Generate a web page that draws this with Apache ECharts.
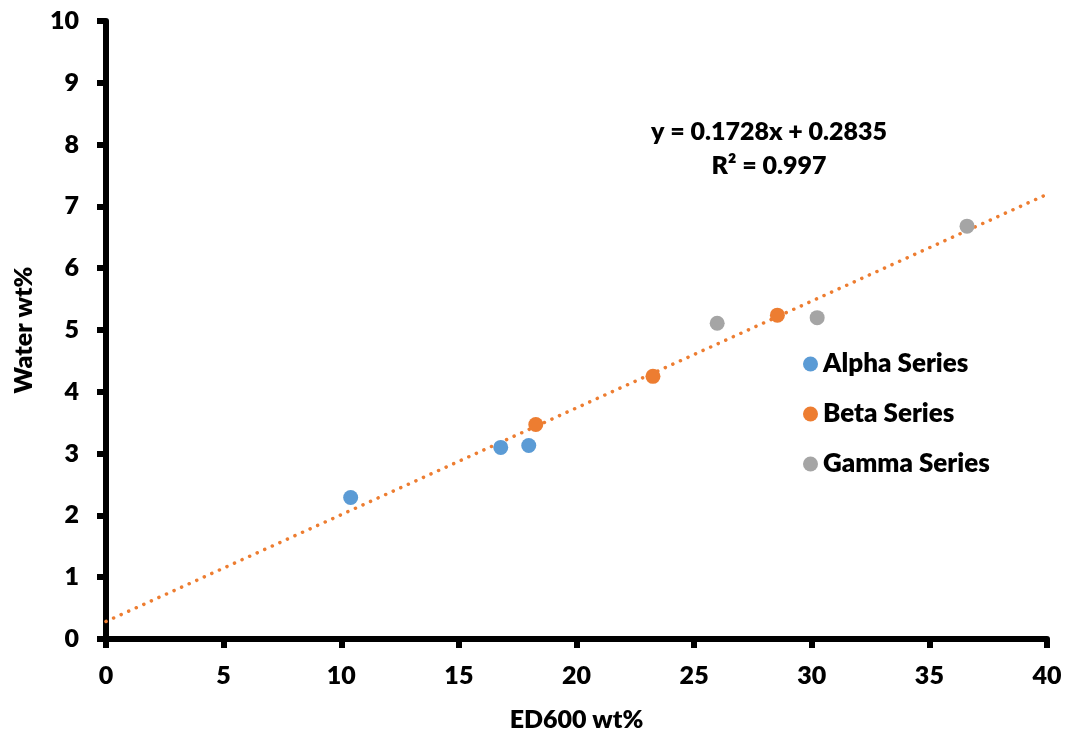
<!DOCTYPE html>
<html>
<head>
<meta charset="utf-8">
<script src="https://cdn.jsdelivr.net/npm/echarts@6/dist/echarts.min.js"></script>
<style>
html,body{margin:0;padding:0;background:#fff;}
#chart{width:1071px;height:737px;}
</style>
</head>
<body>
<div id="chart"></div>
<script>
const alphaData = [[10.40, 2.29], [16.78, 3.10], [17.97, 3.13]];
const betaData = [[18.27, 3.47], [23.25, 4.25], [28.54, 5.24]];
const gammaData = [[25.98, 5.11], [30.23, 5.20], [36.60, 6.68]];
const trendSlope = 0.1728;
const trendIntercept = 0.2835;
const trendRange = [0, 40];
const equationText = ['y = 0.1728x + 0.2835', 'R² = 0.997'];
const seriesNames = ['Alpha Series', 'Beta Series', 'Gamma Series'];
const colors = ['#5B9BD5', '#ED7D31', '#A5A5A5'];

const FONT = 'Lato';
const WEIGHT = 800;
const trendData = trendRange.map(x => [x, trendSlope * x + trendIntercept]);

const chart = echarts.init(document.getElementById('chart'));
chart.setOption({
  animation: false,
  backgroundColor: '#fff',
  grid: { left: 106, right: 24, top: 21, bottom: 97, containLabel: false },
  xAxis: {
    type: 'value', min: 0, max: 40, interval: 5,
    name: 'ED600 wt%', nameLocation: 'middle', nameGap: 68,
    nameTextStyle: { fontFamily: FONT, fontWeight: WEIGHT, fontSize: 25, color: '#000' },
    axisLine: { show: true, onZero: false, lineStyle: { color: '#000', width: 6 } },
    axisTick: { show: true, length: 9, lineStyle: { color: '#000', width: 6 } },
    axisLabel: { fontFamily: FONT, fontWeight: WEIGHT, fontSize: 25, color: '#000', margin: 24 },
    splitLine: { show: false }
  },
  yAxis: {
    type: 'value', min: 0, max: 10, interval: 1,
    name: 'Water wt%', nameLocation: 'middle', nameGap: 70, nameRotate: 90,
    nameTextStyle: { fontFamily: FONT, fontWeight: WEIGHT, fontSize: 25, color: '#000' },
    axisLine: { show: true, onZero: false, lineStyle: { color: '#000', width: 6 } },
    axisTick: { show: true, length: 9, lineStyle: { color: '#000', width: 6 } },
    axisLabel: { fontFamily: FONT, fontWeight: WEIGHT, fontSize: 25, color: '#000', margin: 27 },
    splitLine: { show: false }
  },
  legend: {
    data: seriesNames,
    orient: 'vertical', left: 798, top: 346,
    itemGap: 24, itemWidth: 15, itemHeight: 15, icon: 'circle',
    textStyle: { fontFamily: FONT, fontWeight: WEIGHT, fontSize: 26, color: '#000' }
  },
  graphic: [{
    type: 'text', x: 769, y: 149,
    style: {
      text: equationText.join('\n'),
      align: 'center', verticalAlign: 'middle',
      fontFamily: FONT, fontWeight: WEIGHT, fontSize: 25, lineHeight: 34, fill: '#000'
    }
  }],
  series: [
    {
      name: 'trend', type: 'line', data: trendData, symbol: 'none', silent: true,
      lineStyle: { color: '#ED7D31', width: 3.5, type: [0.1, 8.2], cap: 'round' },
      z: 1
    },
    { name: seriesNames[0], type: 'scatter', data: alphaData, symbolSize: 15, itemStyle: { color: colors[0], opacity: 1 }, z: 3 },
    { name: seriesNames[1], type: 'scatter', data: betaData, symbolSize: 15, itemStyle: { color: colors[1], opacity: 1 }, z: 3 },
    { name: seriesNames[2], type: 'scatter', data: gammaData, symbolSize: 15, itemStyle: { color: colors[2], opacity: 1 }, z: 3 }
  ]
});
</script>
</body>
</html>
